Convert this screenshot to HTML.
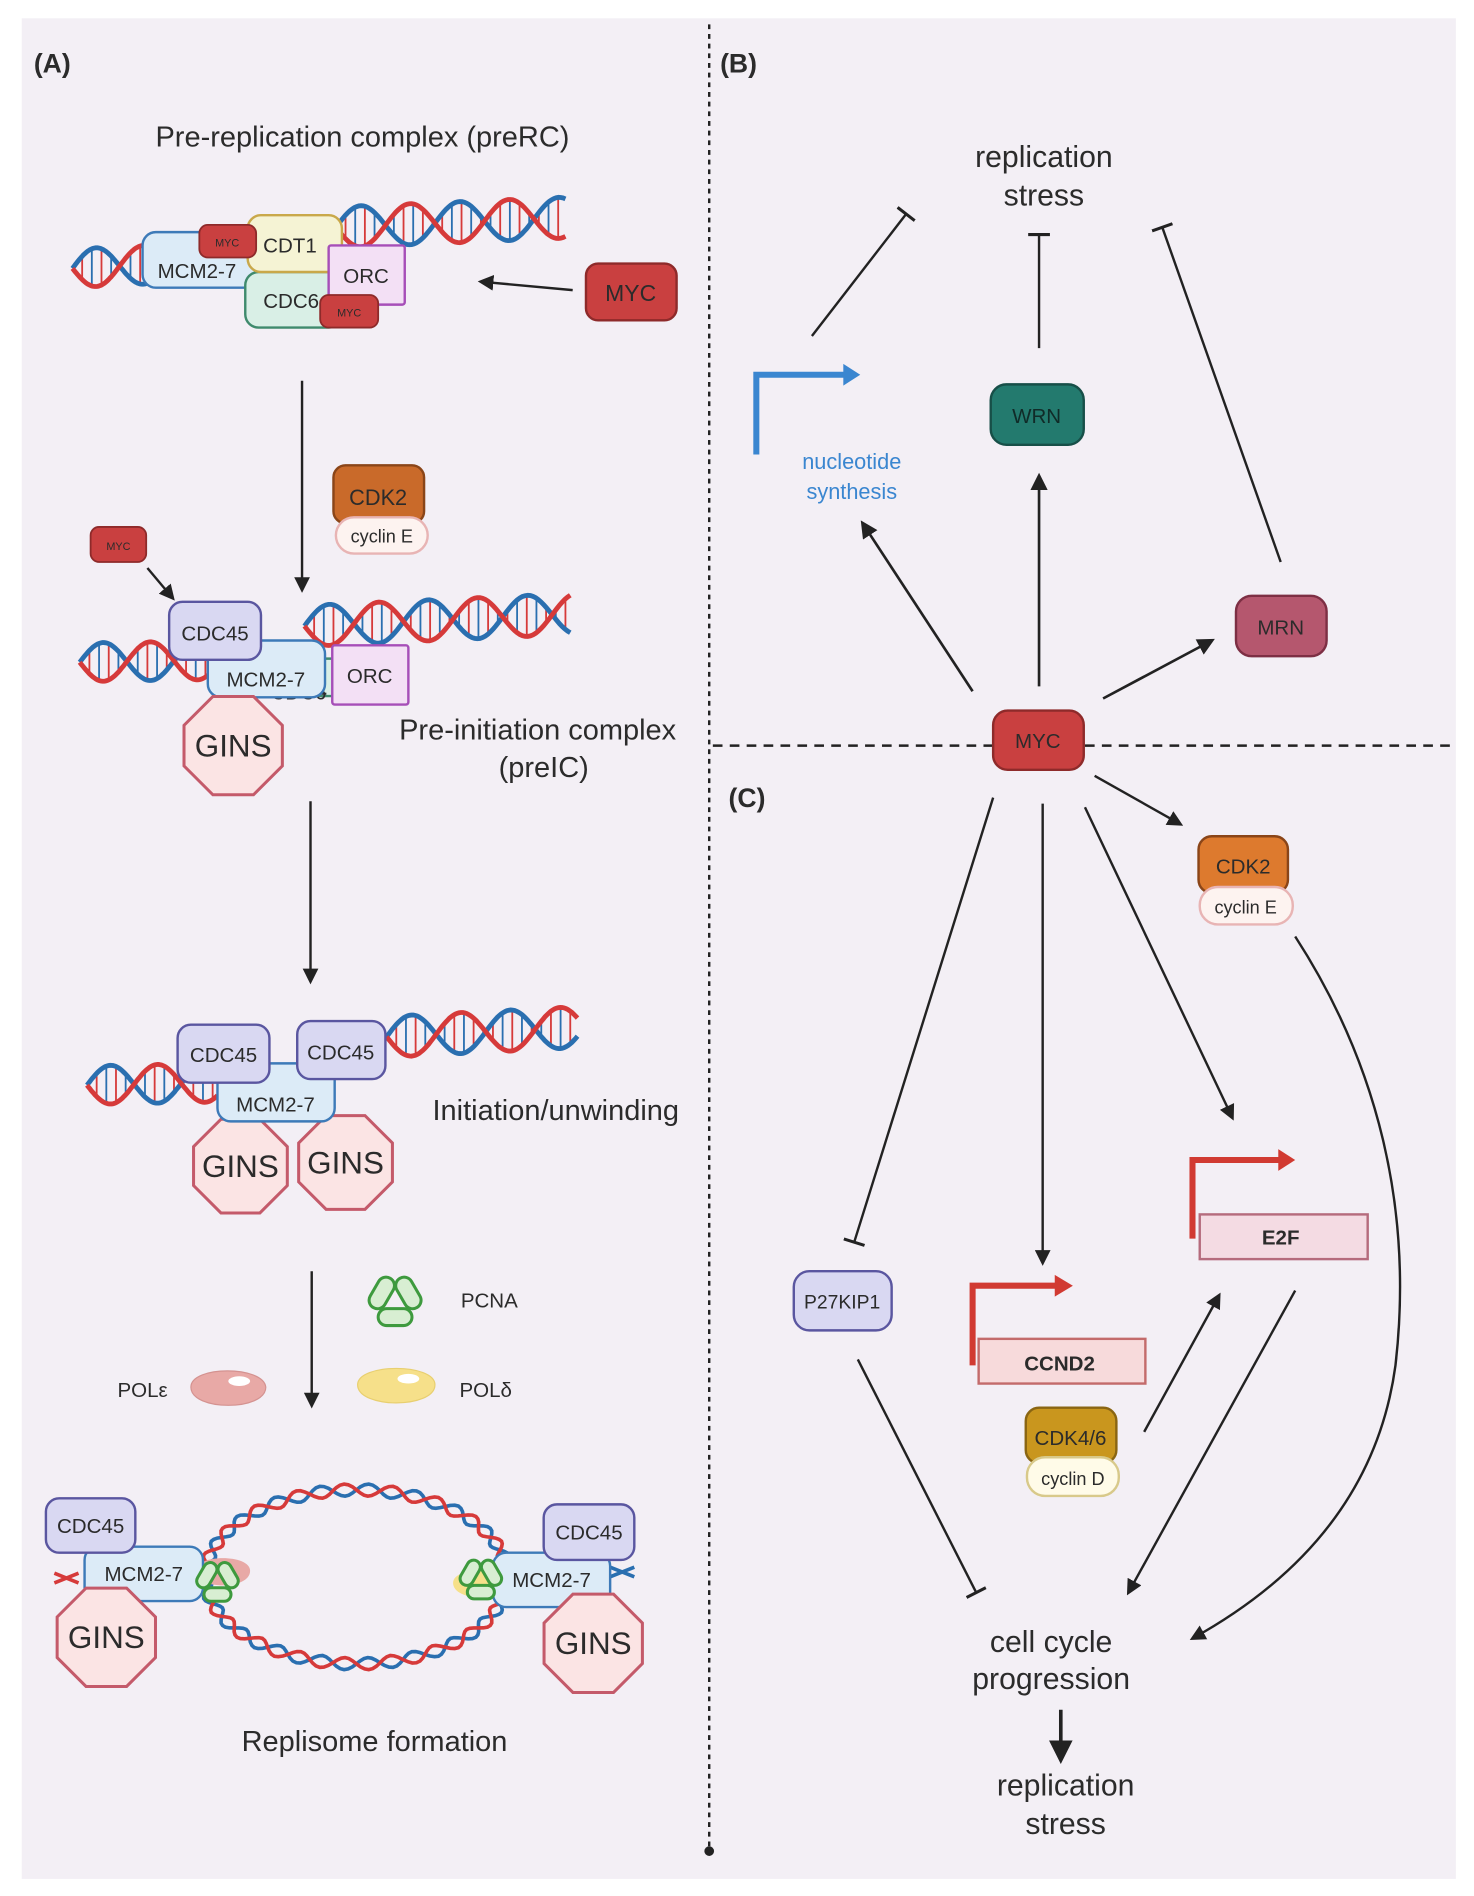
<!DOCTYPE html>
<html><head><meta charset="utf-8"><style>
html,body{margin:0;padding:0;background:#fff}
svg{display:block}
text{font-family:"Liberation Sans",sans-serif;fill:#2b2b2b}
</style></head><body>
<svg id="s" width="1474" height="1896" viewBox="0 0 1220 1569" xmlns="http://www.w3.org/2000/svg">
<defs>
<marker id="ah" viewBox="0 0 10 10" refX="8" refY="5" markerWidth="6.5" markerHeight="6.5" orient="auto"><path d="M0,0 L10,5 L0,10 z" fill="#222"/></marker>
<marker id="tb" viewBox="0 0 10 10" refX="5" refY="5" markerWidth="9" markerHeight="9" orient="auto"><path d="M5,0 L5,10" stroke="#222" stroke-width="1.4"/></marker>
</defs>
<rect x="18" y="15" width="1187" height="1540" fill="#f3eff5"/>
<line x1="587" y1="20" x2="587" y2="1530" stroke="#222" stroke-width="2" stroke-dasharray="4,4"/>
<circle cx="587" cy="1532" r="4" fill="#222"/>
<line x1="590" y1="617" x2="1200" y2="617" stroke="#222" stroke-width="2" stroke-dasharray="8,6"/>

<g id="dna"></g>

<!-- Panel A -->
<text x="28" y="60" font-size="22" font-weight="bold">(A)</text>
<text x="300" y="121" font-size="24" text-anchor="middle">Pre-replication complex (preRC)</text>
<g font-size="17" text-anchor="middle">
<rect x="118" y="192" width="95" height="46" rx="11" fill="#dcebf7" stroke="#3d7ab8" stroke-width="2"/><text x="163" y="242" dy="-12">MCM2-7</text>
<rect x="203" y="225" width="80" height="46" rx="11" fill="#d9efe6" stroke="#3f8a6d" stroke-width="2"/><text x="241" y="255">CDC6</text>
<rect x="205" y="178" width="78" height="47" rx="11" fill="#f5f3d4" stroke="#c9a84a" stroke-width="2"/><text x="240" y="209">CDT1</text>
<rect x="272" y="203" width="63" height="49" rx="2" fill="#f3e0f5" stroke="#a64fb8" stroke-width="2"/><text x="303" y="234">ORC</text>
</g>
<rect x="165" y="186" width="47" height="27" rx="7" fill="#c94040" stroke="#8e2a2a" stroke-width="1.5"/><text x="188" y="204" font-size="9" text-anchor="middle">MYC</text>
<rect x="265" y="244" width="48" height="27" rx="7" fill="#c94040" stroke="#8e2a2a" stroke-width="1.5"/><text x="289" y="262" font-size="9" text-anchor="middle">MYC</text>
<rect x="485" y="218" width="75" height="47" rx="10" fill="#c94040" stroke="#8e2a2a" stroke-width="2"/><text x="522" y="249" font-size="19" text-anchor="middle">MYC</text>
<line x1="474" y1="240" x2="398" y2="233" stroke="#222" stroke-width="2" marker-end="url(#ah)"/>
<line x1="250" y1="315" x2="250" y2="488" stroke="#222" stroke-width="2" marker-end="url(#ah)"/>
<rect x="276" y="385" width="75" height="48" rx="10" fill="#c96a2a" stroke="#8a4518" stroke-width="2"/><text x="313" y="418" font-size="18" text-anchor="middle">CDK2</text>
<rect x="278" y="428" width="76" height="30" rx="15" fill="#fdf3f0" stroke="#e8b4b4" stroke-width="2"/><text x="316" y="449" font-size="15" text-anchor="middle">cyclin E</text>
<rect x="75" y="436" width="46" height="29" rx="7" fill="#c94040" stroke="#8e2a2a" stroke-width="1.5"/><text x="98" y="455" font-size="9" text-anchor="middle">MYC</text>
<line x1="122" y1="470" x2="143" y2="495" stroke="#222" stroke-width="2" marker-end="url(#ah)"/>
<g font-size="17" text-anchor="middle">
<rect x="212" y="545" width="72" height="31" rx="10" fill="#d9efe6" stroke="#3f8a6d" stroke-width="2"/><text x="247" y="585" dy="-6" style="text-decoration:line-through">CDC6</text>
<rect x="172" y="530" width="97" height="47" rx="11" fill="#dcebf7" stroke="#3d7ab8" stroke-width="2"/><text x="220" y="568">MCM2-7</text>
<rect x="140" y="498" width="76" height="48" rx="11" fill="#d9d8f2" stroke="#5a56a0" stroke-width="2"/><text x="178" y="530">CDC45</text>
<rect x="275" y="534" width="63" height="49" rx="2" fill="#f3e0f5" stroke="#a64fb8" stroke-width="2"/><text x="306" y="565">ORC</text>
</g>
<g id="gins"></g>
<text x="445" y="612" font-size="24" text-anchor="middle">Pre-initiation complex</text>
<text x="450" y="643" font-size="24" text-anchor="middle">(preIC)</text>
<line x1="257" y1="663" x2="257" y2="812" stroke="#222" stroke-width="2" marker-end="url(#ah)"/>
<g font-size="17" text-anchor="middle">
<rect x="180" y="880" width="97" height="48" rx="11" fill="#dcebf7" stroke="#3d7ab8" stroke-width="2"/><text x="228" y="920">MCM2-7</text>
<rect x="147" y="848" width="76" height="48" rx="11" fill="#d9d8f2" stroke="#5a56a0" stroke-width="2"/><text x="185" y="879">CDC45</text>
<rect x="246" y="845" width="73" height="48" rx="11" fill="#d9d8f2" stroke="#5a56a0" stroke-width="2"/><text x="282" y="877">CDC45</text>
</g>
<text x="460" y="927" font-size="24" text-anchor="middle">Initiation/unwinding</text>
<line x1="258" y1="1052" x2="258" y2="1163" stroke="#222" stroke-width="2" marker-end="url(#ah)"/>
<g id="pcna1"></g>
<text x="405" y="1082" font-size="17" text-anchor="middle">PCNA</text>
<text x="118" y="1156" font-size="17" text-anchor="middle">POLε</text>
<text x="402" y="1156" font-size="17" text-anchor="middle">POLδ</text>
<path d="M158,1148 c0,-18 60,-18 62,0 c0,20 -62,20 -62,0z" fill="#e8a9a6" stroke="#d49290"/>
<ellipse cx="198" cy="1143" rx="9" ry="4" fill="#fff"/>
<path d="M296,1146 c0,-18 64,-18 64,0 c0,20 -64,20 -64,0z" fill="#f6e08a" stroke="#e8cf70"/>
<ellipse cx="338" cy="1141" rx="9" ry="4" fill="#fff"/>
<g id="rep"></g>
<text x="310" y="1449" font-size="24" text-anchor="middle">Replisome formation</text>

<!-- Panel B -->
<text x="596" y="60" font-size="22" font-weight="bold">(B)</text>
<text x="864" y="138" font-size="25" text-anchor="middle">replication</text>
<text x="864" y="170" font-size="25" text-anchor="middle">stress</text>
<line x1="672" y1="278" x2="750" y2="177" stroke="#222" stroke-width="2" marker-end="url(#tb)"/>
<line x1="860" y1="288" x2="860" y2="194" stroke="#222" stroke-width="2" marker-end="url(#tb)"/>
<line x1="1060" y1="465" x2="962" y2="188" stroke="#222" stroke-width="2" marker-end="url(#tb)"/>
<path d="M626,376 L626,310 L700,310" fill="none" stroke="#3a86d0" stroke-width="5"/>
<path d="M698,301 L712,310 L698,319z" fill="#3a86d0"/>
<text x="705" y="388" font-size="18" text-anchor="middle" style="fill:#3a86d0">nucleotide</text>
<text x="705" y="413" font-size="18" text-anchor="middle" style="fill:#3a86d0">synthesis</text>
<rect x="820" y="318" width="77" height="50" rx="13" fill="#237a6e" stroke="#174f48" stroke-width="2"/><text x="858" y="350" font-size="17" text-anchor="middle" style="fill:#102b28">WRN</text>
<rect x="1023" y="493" width="75" height="50" rx="13" fill="#b5576e" stroke="#7d2f44" stroke-width="2"/><text x="1060" y="525" font-size="17" text-anchor="middle">MRN</text>
<rect x="822" y="588" width="75" height="49" rx="12" fill="#c94040" stroke="#8e2a2a" stroke-width="2"/><text x="859" y="619" font-size="17" text-anchor="middle">MYC</text>
<line x1="805" y1="572" x2="714" y2="433" stroke="#222" stroke-width="2.2" marker-end="url(#ah)"/>
<line x1="860" y1="568" x2="860" y2="394" stroke="#222" stroke-width="2.2" marker-end="url(#ah)"/>
<line x1="913" y1="578" x2="1003" y2="530" stroke="#222" stroke-width="2.2" marker-end="url(#ah)"/>

<!-- Panel C -->
<text x="603" y="668" font-size="22" font-weight="bold">(C)</text>
<line x1="822" y1="660" x2="707" y2="1028" stroke="#222" stroke-width="2" marker-end="url(#tb)"/>
<line x1="863" y1="665" x2="863" y2="1045" stroke="#222" stroke-width="2" marker-end="url(#ah)"/>
<line x1="898" y1="668" x2="1020" y2="925" stroke="#222" stroke-width="2" marker-end="url(#ah)"/>
<line x1="906" y1="642" x2="977" y2="682" stroke="#222" stroke-width="2" marker-end="url(#ah)"/>
<rect x="992" y="692" width="74" height="47" rx="11" fill="#dd7a2e" stroke="#8a4518" stroke-width="2"/><text x="1029" y="723" font-size="17" text-anchor="middle">CDK2</text>
<rect x="993" y="734" width="77" height="31" rx="15" fill="#fdf3f0" stroke="#e8b4b4" stroke-width="2"/><text x="1031" y="756" font-size="15" text-anchor="middle">cyclin E</text>
<path d="M1072,775 C1140,880 1170,1000 1155,1130 C1140,1240 1070,1310 987,1356" fill="none" stroke="#222" stroke-width="2" marker-end="url(#ah)"/>
<path d="M987,1025 L987,960 L1060,960" fill="none" stroke="#d13a32" stroke-width="5"/>
<path d="M1058,951 L1072,960 L1058,969z" fill="#d13a32"/>
<rect x="993" y="1005" width="139" height="37" fill="#f4dbe3" stroke="#b56b7d" stroke-width="2"/><text x="1060" y="1030" font-size="17" font-weight="bold" text-anchor="middle">E2F</text>
<path d="M805,1130 L805,1064 L875,1064" fill="none" stroke="#d13a32" stroke-width="5"/>
<path d="M873,1055 L888,1064 L873,1073z" fill="#d13a32"/>
<rect x="810" y="1108" width="138" height="37" fill="#f7dadb" stroke="#c36b6b" stroke-width="2"/><text x="877" y="1134" font-size="17" font-weight="bold" text-anchor="middle">CCND2</text>
<rect x="657" y="1052" width="81" height="49" rx="13" fill="#d9d8f2" stroke="#5a56a0" stroke-width="2"/><text x="697" y="1083" font-size="16" text-anchor="middle">P27KIP1</text>
<rect x="849" y="1165" width="75" height="46" rx="11" fill="#c9961e" stroke="#8a6512" stroke-width="2"/><text x="886" y="1196" font-size="17" text-anchor="middle">CDK4/6</text>
<rect x="850" y="1206" width="76" height="32" rx="15" fill="#fffbe8" stroke="#d8c98a" stroke-width="2"/><text x="888" y="1229" font-size="15" text-anchor="middle">cyclin D</text>
<line x1="710" y1="1125" x2="808" y2="1318" stroke="#222" stroke-width="2" marker-end="url(#tb)"/>
<line x1="947" y1="1185" x2="1009" y2="1072" stroke="#222" stroke-width="2" marker-end="url(#ah)"/>
<line x1="1072" y1="1068" x2="934" y2="1318" stroke="#222" stroke-width="2" marker-end="url(#ah)"/>
<text x="870" y="1367" font-size="25" text-anchor="middle">cell cycle</text>
<text x="870" y="1398" font-size="25" text-anchor="middle">progression</text>
<line x1="878" y1="1415" x2="878" y2="1456" stroke="#222" stroke-width="3" marker-end="url(#ah)"/>
<text x="882" y="1486" font-size="25" text-anchor="middle">replication</text>
<text x="882" y="1518" font-size="25" text-anchor="middle">stress</text>
</svg>
<script>
var NS="http://www.w3.org/2000/svg";
function el(p,t,a){var e=document.createElementNS(NS,t);for(var k in a)e.setAttribute(k,a[k]);p.appendChild(e);return e;}
var dna=document.getElementById('dna');
function helix(x0,y0,x1,y1,amp,per){
 var n=100,r="",b="",dx=x1-x0,dy=y1-y0;
 for(var i=0;i<=n;i++){var t=i/n,x=x0+dx*t,y=y0+dy*t,ph=2*Math.PI*dx*t/per;
  r+=(i?"L":"M")+x.toFixed(1)+","+(y+amp*Math.sin(ph)).toFixed(1);
  b+=(i?"L":"M")+x.toFixed(1)+","+(y-amp*Math.sin(ph)).toFixed(1);}
 for(var j=0;j<dx/8;j++){var x=x0+j*8,t=(x-x0)/dx,y=y0+dy*t,ph=2*Math.PI*(x-x0)/per;
  el(dna,'line',{x1:x,y1:y+amp*Math.sin(ph),x2:x,y2:y-amp*Math.sin(ph),stroke:j%2?'#d63a3a':'#2a6fb0','stroke-width':1.5});}
 el(dna,'path',{d:b,fill:'none',stroke:'#2a6fb0','stroke-width':4});
 el(dna,'path',{d:r,fill:'none',stroke:'#d63a3a','stroke-width':4});
}
helix(60,222,140,218,16,78);helix(278,188,468,180,17,82);
helix(66,548,200,546,16,78);helix(252,518,472,508,17,82);
helix(72,898,180,896,16,78);helix(320,858,478,850,17,82);
function oct(g,cx,cy,r){var p="";for(var i=0;i<8;i++){var a=Math.PI/8+i*Math.PI/4;p+=(cx+r*Math.cos(a)).toFixed(1)+","+(cy+r*Math.sin(a)).toFixed(1)+" ";}
 el(g,'polygon',{points:p,fill:'#fbe4e4',stroke:'#c45a6a','stroke-width':2.5});var t=el(g,'text',{x:cx,y:cy+9,'font-size':26,'text-anchor':'middle'});t.textContent='GINS';}
var gins=document.getElementById('gins');oct(gins,193,617,44);oct(gins,199,965,42);oct(gins,286,962,42);
function pcna(g,cx,cy,s){
 var sh=[[cx-11*s,cy-8*s,-60],[cx+11*s,cy-8*s,60],[cx,cy+12*s,0]];
 sh.forEach(function(q){el(g,'rect',{x:q[0]-14*s,y:q[1]-7*s,width:28*s,height:14*s,rx:7*s,fill:'#d8eed2',stroke:'#3e9a3e','stroke-width':2.5,transform:'rotate('+q[2]+' '+q[0]+' '+q[1]+')'});});
}
var p1=document.getElementById('pcna1');pcna(p1,327,1078,1);
var rep=document.getElementById('rep');
var cx=295,cy=1305,rx=125,ry=72,a="",c="";
for(var i=0;i<=240;i++){var th=2*Math.PI*i/240,w=5*Math.sin(th*20);
 a+=(i?"L":"M")+(cx+(rx+w)*Math.cos(th)).toFixed(1)+","+(cy+(ry+w)*Math.sin(th)).toFixed(1);
 c+=(i?"L":"M")+(cx+(rx-w)*Math.cos(th)).toFixed(1)+","+(cy+(ry-w)*Math.sin(th)).toFixed(1);}
el(rep,'path',{d:a,fill:'none',stroke:'#2a6fb0','stroke-width':3});
el(rep,'path',{d:c,fill:'none',stroke:'#d63a3a','stroke-width':3});
el(rep,'path',{d:'M45,1310 l20,-8 M45,1302 l20,8',stroke:'#d63a3a','stroke-width':3});
el(rep,'path',{d:'M505,1305 l20,-8 M505,1297 l20,8',stroke:'#2a6fb0','stroke-width':3});
el(rep,'path',{d:'M162,1300 c0,-14 45,-14 45,0 c0,16 -45,16 -45,0z',fill:'#e8a9a6'});
el(rep,'path',{d:'M375,1310 c0,-14 45,-14 45,0 c0,16 -45,16 -45,0z',fill:'#f6e08a'});
function box(g,x,y,w,h,f,s,t){el(g,'rect',{x:x,y:y,width:w,height:h,rx:11,fill:f,stroke:s,'stroke-width':2});var e=el(g,'text',{x:x+w/2,y:y+h/2+6,'font-size':17,'text-anchor':'middle'});e.textContent=t;}
box(rep,70,1280,98,45,'#dcebf7','#3d7ab8','MCM2-7');
box(rep,38,1240,74,45,'#d9d8f2','#5a56a0','CDC45');
box(rep,408,1285,97,45,'#dcebf7','#3d7ab8','MCM2-7');
box(rep,450,1245,75,46,'#d9d8f2','#5a56a0','CDC45');
pcna(rep,180,1310,0.8);pcna(rep,398,1308,0.8);
oct(rep,88,1355,44);oct(rep,491,1360,44);
</script>
</body></html>
